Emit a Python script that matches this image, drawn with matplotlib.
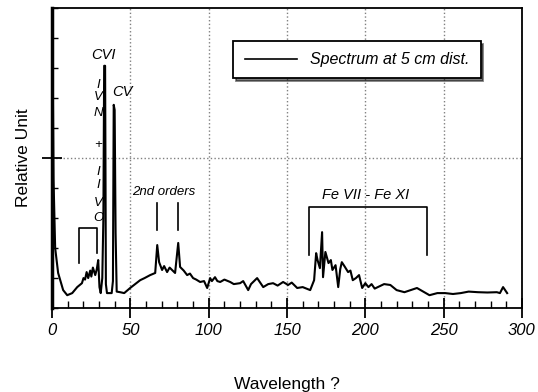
import matplotlib
matplotlib.use("Agg")
import matplotlib.pyplot as plt
from matplotlib.ticker import MultipleLocator, FixedLocator

plt.rcParams["font.family"] = ["Liberation Sans", "DejaVu Sans"]

# spectrum (wavelength, relative intensity on a 0-10 scale)
wavelength = [0, 0.4, 0.85, 1.9, 3.8, 7, 9.6, 12.8, 16, 19, 20, 21, 22, 23, 24.3, 25,
              26, 27.5, 28.5, 29.4, 30.2, 31, 32, 32.7, 33.2, 33.8, 34.3, 35, 38, 38.8,
              39.3, 39.9, 40.5, 41.2, 43.4, 46, 49.8, 53, 56.2, 59, 62.6, 65.8, 67.1,
              68.3, 70.2, 71.5, 73.4, 75, 76.6, 78.5, 80.5, 81.7, 84, 86.2, 88, 90, 92,
              94.5, 97, 99, 100.9, 102, 104, 105.5, 107.3, 110, 113.7, 116, 120, 122,
              125.2, 127, 130.9, 134.8, 138, 141.1, 144, 147.5, 150.7, 153, 156.5, 160,
              164.8, 167.3, 168.6, 169.5, 171, 172.4, 173, 174.5, 176.5, 178, 179, 181,
              182.7, 184, 185, 187, 189, 190.5, 192, 194, 196, 198, 200, 202, 204, 206,
              208, 212, 216, 220, 225, 229, 233, 237, 241, 246, 251, 256, 261, 266, 272,
              278, 284, 286, 288, 290.6]
intensity = [10.3, 7.5, 4.3, 2.0, 1.17, 0.6, 0.43, 0.5, 0.7, 0.83, 1.0, 0.95, 1.2, 1.0,
             1.25, 1.05, 1.35, 1.1, 1.3, 1.6, 0.7, 0.5, 1.0, 3.0, 8.07, 8.07, 0.8, 0.5,
             0.5, 0.9, 6.77, 6.6, 2.5, 0.55, 0.53, 0.5, 0.67, 0.8, 0.93, 1.0, 1.1, 1.17,
             2.1, 1.53, 1.27, 1.4, 1.2, 1.35, 1.27, 1.17, 2.17, 1.37, 1.25, 1.1, 1.15,
             1.0, 0.95, 0.87, 0.9, 0.67, 1.0, 0.9, 1.03, 0.9, 0.87, 0.95, 0.87, 0.8,
             0.83, 0.9, 0.6, 0.8, 1.0, 0.7, 0.8, 0.83, 0.75, 0.87, 0.77, 0.85, 0.67, 0.7,
             0.6, 0.93, 1.83, 1.6, 1.33, 2.53, 1.03, 1.87, 1.5, 1.6, 1.27, 1.43, 0.7,
             1.3, 1.53, 1.37, 1.2, 1.25, 0.93, 1.0, 1.1, 0.67, 0.83, 0.7, 0.8, 0.65,
             0.7, 0.8, 0.77, 0.6, 0.53, 0.6, 0.67, 0.55, 0.43, 0.5, 0.5, 0.47, 0.5,
             0.55, 0.53, 0.52, 0.53, 0.5, 0.7, 0.5]

# annotation brackets / markers (data coords)
bracket_low = [17.3, 28.7, 2.67, 1.5, 1.83]     # x0, x1, top, left leg end, right leg end
bracket_fe = [164, 239.5, 3.37, 1.77, 1.77]
second_orders = [67, 80.5]
stack_letters = ["I", "V", "N", "+", "I", "I", "V", "O"]
stack_y = [7.43, 7.03, 6.5, 5.43, 4.53, 4.1, 3.5, 3.0]

fig = plt.figure(figsize=(5.38, 3.92), dpi=100)
ax = fig.add_axes([0.097, 0.214, 0.873, 0.766])

ax.plot(wavelength, intensity, color="black", linewidth=1.5,
        label="Spectrum at 5 cm dist.")

ax.set_xlim(0, 300)
ax.set_ylim(0, 10)

ax.xaxis.set_major_locator(MultipleLocator(50))
ax.xaxis.set_minor_locator(MultipleLocator(10))
ax.yaxis.set_major_locator(FixedLocator([5]))
ax.yaxis.set_minor_locator(MultipleLocator(1))
ax.tick_params(axis="x", which="major", direction="inout", length=14, width=1.3,
               labelsize=12, pad=4)
ax.tick_params(axis="x", which="minor", direction="in", length=5, width=1)
ax.tick_params(axis="y", which="major", direction="inout", length=14, width=1.3,
               labelleft=False)
ax.tick_params(axis="y", which="minor", direction="in", length=4, width=1)
for lab in ax.get_xticklabels():
    lab.set_style("italic")

ax.grid(True, which="major", linestyle=":", color="gray", linewidth=1)

for side in ["top", "right", "bottom"]:
    ax.spines[side].set_linewidth(1.3)
ax.spines["left"].set_linewidth(2.5)

ax.set_xlabel("Wavelength ?", fontsize=12.5, labelpad=28)
ax.set_ylabel("Relative Unit", fontsize=12.5, labelpad=8)

# brackets
x0, x1, top, l0, l1 = bracket_low
ax.plot([x0, x0, x1, x1], [l0, top, top, l1], color="black", linewidth=1.2)
x0, x1, top, l0, l1 = bracket_fe
ax.plot([x0, x0, x1, x1], [l0, top, top, l1], color="black", linewidth=1.2)
for w in second_orders:
    ax.plot([w, w], [2.6, 3.5], color="black", linewidth=1.2)

ax.text(32.6, 8.43, "CVI", fontsize=10.5, style="italic", ha="center", va="center")
ax.text(44.7, 7.2, "CV", fontsize=10.5, style="italic", ha="center", va="center")
for ch, yy in zip(stack_letters, stack_y):
    ax.text(29.4, yy, ch, fontsize=9.5, style="italic", ha="center", va="center")
ax.text(71, 3.87, "2nd orders", fontsize=9.5, style="italic", ha="center", va="center")
ax.text(200, 3.77, "Fe VII - Fe XI", fontsize=10.5, style="italic", ha="center",
        va="center")

leg = ax.legend(loc="center", bbox_to_anchor=(0.649, 0.827),
                prop={"style": "italic", "size": 11.5}, frameon=True, fancybox=False,
                shadow={"color": "black"}, handlelength=3.3, borderpad=0.7)
leg.get_frame().set_edgecolor("black")
leg.get_frame().set_linewidth(1.3)
leg.get_frame().set_alpha(1)
leg.get_lines()[0].set_linewidth(1.2)

plt.savefig("out.png", dpi=100)
